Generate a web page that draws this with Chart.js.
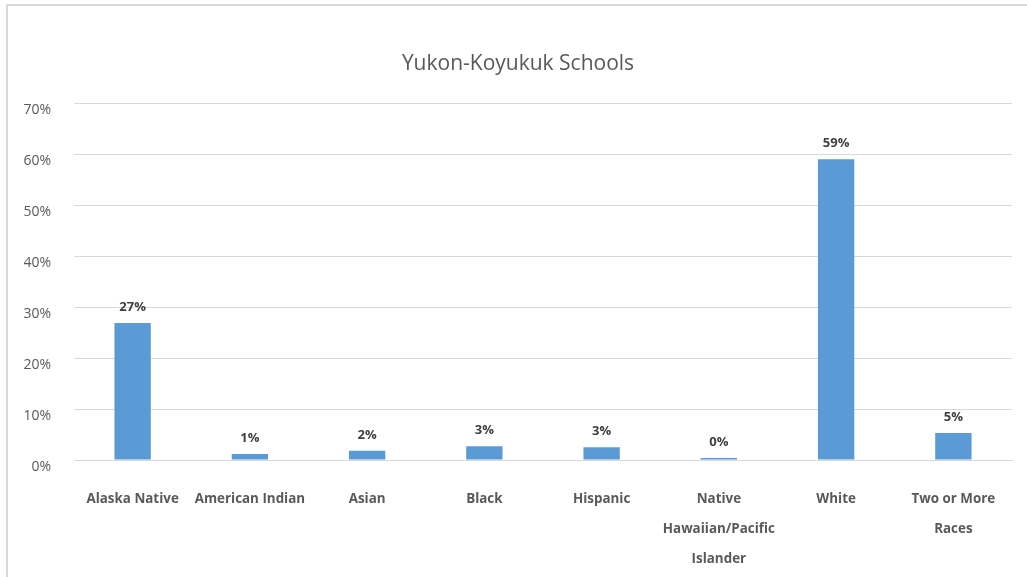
<!DOCTYPE html>
<html>
<head>
<meta charset="utf-8">
<script src="https://cdn.jsdelivr.net/npm/chart.js@4"></script>
<style>
    html, body { margin: 0; padding: 0; background: #fff; overflow: hidden; }
    #frame {
        position: absolute; left: 6px; top: 4px; width: 1040px; height: 600px;
        border: 2px solid #D9D9D9; box-sizing: border-box;
    }
    #wrap { position: absolute; left: 0; top: 0; width: 1027px; height: 577px; }
</style>
</head>
<body>
<div id="frame"></div>
<div id="wrap"><canvas id="graficoEscolas"></canvas></div>
<script>
// Dados do gráfico (percentual de alunos por grupo)
const categorias = [
    'Alaska Native',
    'American Indian',
    'Asian',
    'Black',
    'Hispanic',
    ['Native', 'Hawaiian/Pacific', 'Islander'],
    'White',
    ['Two or More', 'Races'],
];
const percentuais = [26.9, 1.2, 1.8, 2.7, 2.5, 0.4, 59.0, 5.3];
const ticksY = [0, 10, 20, 30, 40, 50, 60, 70];

const corTexto = '#595959';
const fonte = "'Open Sans', 'DejaVu Sans', sans-serif";

// Rótulos de valor acima de cada barra
const rotulosBarras = {
    id: 'rotulosBarras',
    afterDatasetsDraw(chart) {
        const { ctx } = chart;
        const meta = chart.getDatasetMeta(0);
        ctx.save();
        ctx.font = 'bold 13px ' + fonte;
        ctx.fillStyle = '#404040';
        ctx.textAlign = 'center';
        ctx.textBaseline = 'middle';
        meta.data.forEach((bar, i) => {
            const valor = chart.data.datasets[0].data[i];
            ctx.fillText(Math.round(valor) + '%', bar.x, bar.y - 16);
        });
        ctx.restore();
    },
};

const ctx = document.getElementById('graficoEscolas').getContext('2d');
new Chart(ctx, {
    type: 'bar',
    data: {
        labels: categorias,
        datasets: [{
            data: percentuais,
            backgroundColor: '#5B9BD5',
            borderWidth: 0,
            barPercentage: 0.62,
            categoryPercentage: 0.5,
        }],
    },
    options: {
        responsive: true,
        maintainAspectRatio: false,
        animation: false,
        layout: { padding: { left: 24, right: 15, top: 20, bottom: 0 } },
        plugins: {
            legend: { display: false },
            tooltip: { enabled: false },
            title: {
                display: true,
                text: 'Yukon-Koyukuk Schools',
                color: corTexto,
                font: { family: fonte, size: 21, weight: 'normal', lineHeight: 1.2 },
                padding: { top: 31, bottom: 27 },
            },
        },
        scales: {
            x: {
                grid: { display: false },
                border: { display: true, color: '#D9D9D9', width: 1 },
                ticks: {
                    color: corTexto,
                    padding: 16,
                    maxRotation: 0,
                    autoSkip: false,
                    font: { family: fonte, size: 13.4, weight: 'bold', lineHeight: 30 / 13.4 },
                },
                afterFit: scale => { scale.height = 117; },
            },
            y: {
                min: 0,
                max: 70,
                afterBuildTicks: scale => { scale.ticks = ticksY.map(v => ({ value: v })); },
                grid: { color: '#D9D9D9', lineWidth: 1, drawTicks: false },
                border: { display: false },
                ticks: {
                    color: corTexto,
                    padding: 23,
                    labelOffset: 7,
                    font: { family: fonte, size: 14 },
                    callback: v => v + '%',
                },
                afterFit: scale => { scale.width = 50; },
            },
        },
    },
    plugins: [rotulosBarras],
});
</script>
</body>
</html>
